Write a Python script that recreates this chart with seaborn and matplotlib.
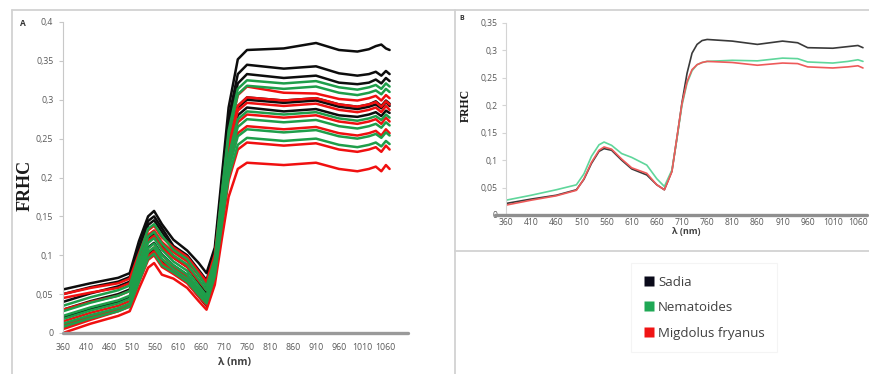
import pandas as pd
import matplotlib.pyplot as plt
import seaborn as sns
from matplotlib.lines import Line2D
from matplotlib.ticker import FuncFormatter

# wavelengths (nm) where panel A spectra were read
wl_a = [360, 420, 480, 505, 525, 545, 558, 575, 600, 630, 655, 672, 690, 705, 720, 740, 760,
        840, 910, 960, 1000, 1025, 1040, 1052, 1062, 1070]

sadia_a = [
    [.056, .064, .071, .077, .118, .150, .157, .140, .120, .106, .090, .077, .110, .200, .290, .352, .364, .366, .373, .364, .362, .365, .369, .371, .366, .364],
    [.050, .059, .066, .072, .110, .144, .150, .135, .112, .100, .081, .068, .103, .190, .276, .333, .345, .340, .343, .334, .331, .333, .336, .331, .337, .333],
    [.040, .051, .060, .066, .104, .139, .145, .130, .107, .095, .075, .060, .095, .183, .266, .321, .333, .328, .331, .322, .320, .322, .326, .321, .328, .324],
    [.030, .041, .050, .056, .090, .122, .128, .113, .097, .085, .065, .050, .085, .165, .240, .290, .300, .296, .299, .291, .288, .291, .294, .289, .297, .292],
    [.020, .031, .040, .046, .079, .110, .116, .101, .087, .075, .055, .040, .075, .160, .232, .280, .290, .285, .288, .280, .278, .281, .284, .279, .286, .283],
    [.008, .020, .030, .036, .070, .102, .108, .093, .077, .065, .047, .035, .070, .167, .242, .292, .303, .299, .302, .294, .291, .294, .298, .292, .299, .295],
]
nema_a = [
    [.035, .046, .055, .061, .099, .134, .140, .125, .107, .095, .075, .060, .095, .179, .260, .314, .325, .321, .324, .316, .313, .316, .319, .314, .321, .317],
    [.028, .039, .048, .054, .090, .124, .130, .115, .100, .088, .069, .055, .090, .175, .254, .307, .318, .314, .317, .309, .306, .309, .312, .307, .314, .310],
    [.022, .033, .042, .048, .083, .116, .122, .107, .092, .080, .061, .048, .083, .157, .228, .275, .285, .281, .284, .276, .273, .276, .279, .274, .281, .277],
    [.018, .029, .038, .044, .078, .109, .115, .100, .087, .075, .057, .045, .080, .151, .220, .265, .275, .271, .274, .266, .263, .266, .269, .264, .271, .267],
    [.012, .023, .032, .038, .072, .104, .110, .095, .082, .070, .053, .042, .077, .144, .210, .253, .262, .258, .261, .253, .250, .253, .256, .251, .258, .254],
    [.008, .019, .028, .034, .066, .096, .102, .087, .078, .066, .049, .038, .073, .138, .201, .242, .251, .247, .250, .242, .239, .242, .245, .240, .247, .243],
]
migd_a = [
    [.050, .058, .064, .070, .102, .132, .138, .123, .110, .098, .079, .066, .101, .174, .254, .306, .317, .309, .308, .301, .299, .302, .305, .299, .306, .302],
    [.045, .052, .058, .064, .096, .126, .132, .117, .104, .092, .074, .062, .097, .167, .242, .292, .303, .299, .302, .294, .291, .294, .297, .291, .298, .294],
    [.030, .040, .048, .054, .088, .119, .125, .110, .097, .085, .067, .055, .090, .163, .237, .286, .296, .292, .295, .287, .284, .287, .290, .284, .292, .287],
    [.015, .026, .035, .041, .074, .104, .110, .095, .084, .072, .056, .045, .080, .155, .225, .271, .281, .277, .280, .272, .269, .272, .275, .269, .277, .272],
    [.010, .021, .030, .036, .069, .099, .105, .090, .080, .068, .051, .040, .075, .146, .213, .257, .266, .262, .265, .257, .254, .257, .260, .254, .262, .257],
    [.005, .017, .028, .034, .065, .094, .100, .085, .076, .064, .047, .036, .071, .135, .196, .236, .245, .241, .244, .236, .233, .236, .239, .233, .241, .236],
    [.000, .012, .022, .028, .057, .084, .090, .075, .070, .058, .041, .030, .062, .120, .175, .211, .219, .216, .219, .211, .208, .211, .214, .208, .216, .211],
]

# panel B: mean spectra
wl_b = [360, 410, 460, 500, 515, 530, 545, 555, 570, 590, 610, 640, 660, 675, 690, 700, 710, 720,
        730, 740, 750, 760, 810, 860, 910, 940, 960, 1010, 1040, 1060, 1070]
sadia_b = [.021, .029, .036, .046, .065, .094, .116, .121, .118, .100, .084, .073, .055, .046, .080, .140,
           .205, .258, .295, .311, .318, .320, .317, .311, .317, .314, .305, .304, .307, .309, .305]
nema_b = [.027, .036, .046, .055, .075, .107, .128, .133, .127, .112, .105, .091, .066, .052, .082, .140,
          .200, .240, .263, .274, .278, .280, .282, .281, .286, .285, .279, .277, .280, .283, .280]
migd_b = [.018, .027, .035, .045, .066, .096, .118, .124, .120, .102, .086, .076, .055, .046, .079, .142,
          .203, .243, .265, .274, .278, .280, .278, .273, .277, .276, .270, .268, .270, .272, .268]

groups = ['Sadia', 'Nematoides', 'Migdolus fryanus']

rows = []
for g, curves in zip(groups, [sadia_a, nema_a, migd_a]):
    for i, c in enumerate(curves):
        for w, v in zip(wl_a, c):
            rows.append({'wl': w, 'frhc': v, 'grupo': g, 'amostra': g + str(i)})
df_a = pd.DataFrame(rows)
# draw order: black, red, green
df_a['ord'] = df_a['grupo'].map({'Sadia': 0, 'Migdolus fryanus': 1, 'Nematoides': 2})
df_a = df_a.sort_values(['ord', 'amostra', 'wl'])

df_b = pd.DataFrame({
    'wl': wl_b * 3,
    'frhc': sadia_b + nema_b + migd_b,
    'grupo': ['Sadia'] * len(wl_b) + ['Nematoides'] * len(wl_b) + ['Migdolus fryanus'] * len(wl_b),
})

sns.set_style('white')
plt.rcParams['font.family'] = ['Open Sans', 'DejaVu Sans']

W, H = 869, 374
fig = plt.figure(figsize=(W / 100, H / 100), dpi=100)

def box(l, t, r, b):
    return [l / W, 1 - b / H, (r - l) / W, (b - t) / H]

comma = FuncFormatter(lambda v, p: ('%g' % round(v, 3)).replace('.', ','))
tick_col = '#595959'

# ---- panel A
pal_a = {'Sadia': '#0d0d0d', 'Nematoides': '#1e9e4a', 'Migdolus fryanus': '#f01010'}
axA = fig.add_axes(box(63, 22, 408, 333))
sns.lineplot(data=df_a, x='wl', y='frhc', hue='grupo', units='amostra', estimator=None,
             palette=pal_a, linewidth=1.8, legend=False, sort=False, ax=axA)
axA.set_xlim(360, 1110)
axA.set_ylim(0, 0.4)
axA.set_xticks(range(360, 1061, 50))
axA.set_yticks([0, .05, .1, .15, .2, .25, .3, .35, .4])
axA.yaxis.set_major_formatter(comma)
axA.set_xlabel('')
axA.set_ylabel('')
sns.despine(ax=axA, top=True, right=True)
axA.spines['left'].set_color('#c8c8c8')
axA.spines['left'].set_linewidth(0.8)
axA.spines['bottom'].set_visible(False)
axA.axhline(0, color='#9a9a9a', linewidth=2.4, clip_on=False, zorder=5)
axA.tick_params(axis='y', left=True, length=3, color='#c8c8c8', labelsize=6.3, labelcolor=tick_col, pad=4)
axA.tick_params(axis='x', bottom=False, length=0, labelsize=6.3, labelcolor=tick_col, pad=7)

# ---- panel B
pal_b = {'Sadia': '#3a3a3a', 'Nematoides': '#5fd69b', 'Migdolus fryanus': '#ee5a5a'}
axB = fig.add_axes(box(506, 23, 867, 215))
sns.lineplot(data=df_b, x='wl', y='frhc', hue='grupo', palette=pal_b, linewidth=1.2,
             legend=False, ax=axB)
axB.set_xlim(360, 1078)
axB.set_ylim(0, 0.35)
axB.set_xticks(range(360, 1061, 50))
axB.set_yticks([0, .05, .1, .15, .2, .25, .3, .35])
axB.yaxis.set_major_formatter(comma)
axB.set_xlabel('')
axB.set_ylabel('')
sns.despine(ax=axB, top=True, right=True)
axB.spines['left'].set_color('#d4d4d4')
axB.spines['left'].set_linewidth(0.8)
axB.spines['bottom'].set_visible(False)
axB.axhline(0, xmin=-0.031, xmax=1, color='#8f8f8f', linewidth=2.4, clip_on=False, zorder=5)
axB.tick_params(axis='y', left=True, length=3, color='#d4d4d4', labelsize=6.2, labelcolor=tick_col, pad=3)
axB.tick_params(axis='x', bottom=False, length=0, labelsize=6.2, labelcolor=tick_col, pad=2)

# ---- texts
fig.text(25 / W, 1 - 185 / H, 'FRHC', rotation=90, ha='center', va='center',
         family='Liberation Serif', weight='bold', fontsize=13, color='#1a1a1a')
fig.text(466 / W, 1 - 105 / H, 'FRHC', rotation=90, ha='center', va='center',
         family='Liberation Serif', weight='bold', fontsize=8.5, color='#1a1a1a')
fig.text(235 / W, 1 - 362 / H, 'λ (nm)', ha='center', va='center', weight='bold',
         fontsize=7.5, color='#404040')
fig.text(686 / W, 1 - 232 / H, 'λ (nm)', ha='center', va='center', weight='bold',
         fontsize=6.5, color='#404040')
fig.text(23 / W, 1 - 24 / H, 'A', ha='center', va='center', weight='bold', fontsize=6, color='#333333')
fig.text(462 / W, 1 - 18 / H, 'B', ha='center', va='center', weight='bold', fontsize=5, color='#333333')

# ---- frames
fc = '#d2d2d2'
for xs, ys in [([12, 869], [10, 10]), ([12, 12], [10, 374]), ([455, 455], [10, 374]),
               ([455, 869], [251, 251])]:
    fig.add_artist(Line2D([x / W for x in xs], [1 - y / H for y in ys], color=fc, linewidth=1.3))

# ---- legend
cols = {'Sadia': '#0a0a1a', 'Nematoides': '#1fa855', 'Migdolus fryanus': '#f01414'}
handles = [Line2D([], [], marker='s', linestyle='none', markersize=6.5,
                  markerfacecolor=cols[g], markeredgecolor='none') for g in groups]
leg = fig.legend(handles, groups, loc='upper left', bbox_to_anchor=(631 / W, 1 - 263 / H),
                 frameon=True, fancybox=False, fontsize=9.5, labelspacing=0.95, handlelength=0.8,
                 handletextpad=0.3, borderpad=0.95, borderaxespad=0)
leg.get_frame().set_edgecolor('#f2f2f2')
leg.get_frame().set_linewidth(0.8)
for t in leg.get_texts():
    t.set_color('#404040')

fig.savefig('out.png', dpi=100)
